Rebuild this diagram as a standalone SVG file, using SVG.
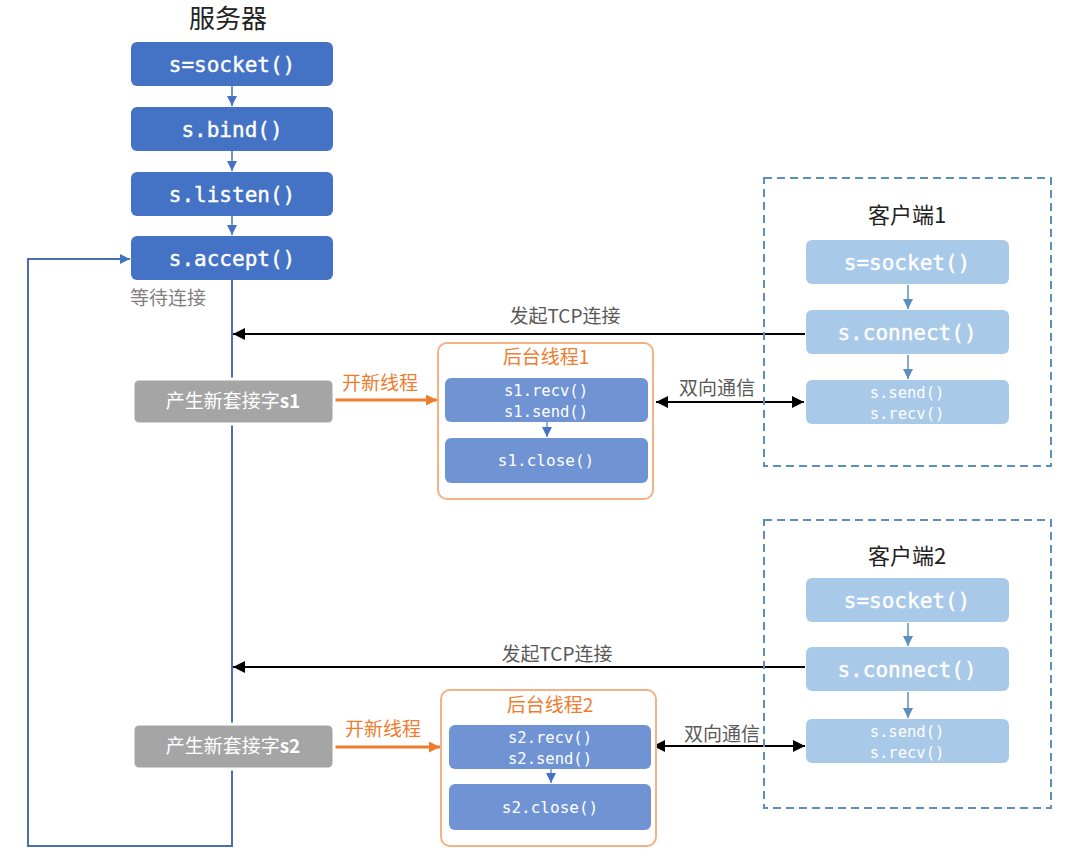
<svg xmlns="http://www.w3.org/2000/svg" width="1081" height="868" viewBox="0 0 1081 868">
<style>
.cjk{font-family:"Noto Sans CJK SC","Liberation Sans",sans-serif}
.mono{font-family:"DejaVu Sans Mono","Liberation Mono",monospace;fill:#fff;text-anchor:middle}
.big{stroke:#fff;stroke-width:0.4}
.srv{fill:#4472C4}
.cli{fill:#A9C9E9}
.inner{fill:#6F93D3}
.gray{fill:#A5A5A5;stroke:#fff;stroke-width:3}
.thread{fill:#fff;stroke:#F4B183;stroke-width:2}
.client{fill:none;stroke:#5B8FBE;stroke-width:2;stroke-dasharray:8 5}
.title{fill:#222;text-anchor:middle}
.lbl{fill:#595959;text-anchor:middle;font-size:19px}
.org{fill:#ED7D31;text-anchor:middle;font-size:19px}
</style>
<defs>
<marker id="ab" viewBox="0 0 10 10" refX="10" refY="5" markerWidth="10" markerHeight="10" markerUnits="userSpaceOnUse" orient="auto"><path d="M0,0 L10,5 L0,10 z" fill="#4472C4"/></marker>
<marker id="abl" viewBox="0 0 10 10" refX="10" refY="5" markerWidth="10" markerHeight="10" markerUnits="userSpaceOnUse" orient="auto"><path d="M0,0 L10,5 L0,10 z" fill="#5B8FBE"/></marker>
<marker id="ak" viewBox="0 0 10 10" refX="10" refY="5" markerWidth="12" markerHeight="12" markerUnits="userSpaceOnUse" orient="auto-start-reverse"><path d="M0,0 L10,5 L0,10 z" fill="#000"/></marker>
<marker id="ao" viewBox="0 0 10 10" refX="10" refY="5" markerWidth="11" markerHeight="11" markerUnits="userSpaceOnUse" orient="auto"><path d="M0,0 L10,5 L0,10 z" fill="#ED7D31"/></marker>
</defs>
<rect width="1081" height="868" fill="#fff"/>

<g id="connectors">
  <path d="M232,86 V106" stroke="#4472C4" stroke-width="1.5" fill="none" marker-end="url(#ab)"/>
  <path d="M232,151 V171" stroke="#4472C4" stroke-width="1.5" fill="none" marker-end="url(#ab)"/>
  <path d="M232,216 V235" stroke="#4472C4" stroke-width="1.5" fill="none" marker-end="url(#ab)"/>
  <path d="M232,280 V846 H28 V259 H130" stroke="#4A6FB5" stroke-width="2" fill="none" marker-end="url(#ab)"/>
  <path d="M805,334 H233" stroke="#000" stroke-width="2" fill="none" marker-end="url(#ak)"/>
  <path d="M805,667 H233" stroke="#000" stroke-width="2" fill="none" marker-end="url(#ak)"/>
  <path d="M334,400 H437" stroke="#ED7D31" stroke-width="3" fill="none" marker-end="url(#ao)"/>
  <path d="M334,747 H440" stroke="#ED7D31" stroke-width="3" fill="none" marker-end="url(#ao)"/>
  <path d="M656,402 H804" stroke="#000" stroke-width="2" fill="none" marker-start="url(#ak)" marker-end="url(#ak)"/>
  <path d="M653,746 H805" stroke="#000" stroke-width="2" fill="none" marker-start="url(#ak)" marker-end="url(#ak)"/>
  <path d="M908,285 V309" stroke="#5B8FBE" stroke-width="1.5" fill="none" marker-end="url(#abl)"/>
  <path d="M908,355 V379" stroke="#5B8FBE" stroke-width="1.5" fill="none" marker-end="url(#abl)"/>
  <path d="M908,623 V646" stroke="#5B8FBE" stroke-width="1.5" fill="none" marker-end="url(#abl)"/>
  <path d="M908,692 V718" stroke="#5B8FBE" stroke-width="1.5" fill="none" marker-end="url(#abl)"/>
</g>

<g id="server">
  <text x="228" y="28" class="cjk title" font-size="26">服务器</text>
  <g id="s-socket"><rect x="131" y="42" width="202" height="44" rx="6" class="srv"/><text x="232" y="72" class="mono big" font-size="21">s=socket()</text></g>
  <g id="s-bind"><rect x="131" y="107" width="202" height="44" rx="6" class="srv"/><text x="232" y="137" class="mono big" font-size="21">s.bind()</text></g>
  <g id="s-listen"><rect x="131" y="172" width="202" height="44" rx="6" class="srv"/><text x="232" y="202" class="mono big" font-size="21">s.listen()</text></g>
  <g id="s-accept"><rect x="131" y="236" width="202" height="44" rx="6" class="srv"/><text x="232" y="266" class="mono big" font-size="21">s.accept()</text></g>
  <text x="130" y="305" class="cjk" font-size="19" fill="#7F7F7F">等待连接</text>
</g>

<g id="newsock1"><rect x="133" y="379" width="201" height="45" rx="6" class="gray"/><text x="233" y="408" class="cjk" font-size="19" fill="#fff" text-anchor="middle">产生新套接字<tspan font-weight="bold">s1</tspan></text></g>
<g id="newsock2"><rect x="133" y="724" width="201" height="45" rx="6" class="gray"/><text x="233" y="753" class="cjk" font-size="19" fill="#fff" text-anchor="middle">产生新套接字<tspan font-weight="bold">s2</tspan></text></g>

<g id="labels">
  <text x="565" y="323" class="cjk lbl">发起TCP连接</text>
  <text x="557" y="661" class="cjk lbl">发起TCP连接</text>
  <text x="380" y="390" class="cjk org">开新线程</text>
  <text x="383" y="736" class="cjk org">开新线程</text>
  <text x="717" y="395" class="cjk lbl">双向通信</text>
  <text x="722" y="741" class="cjk lbl">双向通信</text>
</g>

<g id="thread1">
  <rect x="438" y="343" width="215" height="156" rx="9" class="thread"/>
  <text x="546" y="364" class="cjk org">后台线程1</text>
  <rect x="445" y="378" width="203" height="44" rx="6" class="inner"/>
  <text x="546" y="396" class="mono" font-size="15.5">s1.recv()</text>
  <text x="546" y="417" class="mono" font-size="15.5">s1.send()</text>
  <path d="M547,422 V437" stroke="#6F93D3" stroke-width="1.5" fill="none" marker-end="url(#ab)"/>
  <rect x="445" y="438" width="203" height="45" rx="6" class="inner"/>
  <text x="546" y="466" class="mono" font-size="16">s1.close()</text>
</g>

<g id="thread2">
  <rect x="441" y="690" width="215" height="156" rx="9" class="thread"/>
  <text x="550" y="712" class="cjk org">后台线程2</text>
  <rect x="449" y="725" width="202" height="44" rx="6" class="inner"/>
  <text x="550" y="743" class="mono" font-size="15.5">s2.recv()</text>
  <text x="550" y="764" class="mono" font-size="15.5">s2.send()</text>
  <path d="M551,769 V783" stroke="#6F93D3" stroke-width="1.5" fill="none" marker-end="url(#ab)"/>
  <rect x="449" y="784" width="202" height="46" rx="6" class="inner"/>
  <text x="550" y="813" class="mono" font-size="16">s2.close()</text>
</g>

<g id="client1">
  <rect x="764" y="178" width="287" height="288" class="client"/>
  <text x="907" y="223" class="cjk title" font-size="22">客户端1</text>
  <rect x="806" y="240" width="203" height="44" rx="6" class="cli"/><text x="907" y="270" class="mono big" font-size="21">s=socket()</text>
  <rect x="806" y="310" width="203" height="44" rx="6" class="cli"/><text x="907" y="340" class="mono big" font-size="21">s.connect()</text>
  <rect x="806" y="380" width="203" height="44" rx="6" class="cli"/>
  <text x="907" y="398" class="mono" font-size="15.5">s.send()</text>
  <text x="907" y="419" class="mono" font-size="15.5">s.recv()</text>
</g>

<g id="client2">
  <rect x="764" y="520" width="287" height="288" class="client"/>
  <text x="907" y="564" class="cjk title" font-size="22">客户端2</text>
  <rect x="806" y="578" width="203" height="44" rx="6" class="cli"/><text x="907" y="608" class="mono big" font-size="21">s=socket()</text>
  <rect x="806" y="647" width="203" height="44" rx="6" class="cli"/><text x="907" y="677" class="mono big" font-size="21">s.connect()</text>
  <rect x="806" y="719" width="203" height="44" rx="6" class="cli"/>
  <text x="907" y="737" class="mono" font-size="15.5">s.send()</text>
  <text x="907" y="758" class="mono" font-size="15.5">s.recv()</text>
</g>
</svg>
